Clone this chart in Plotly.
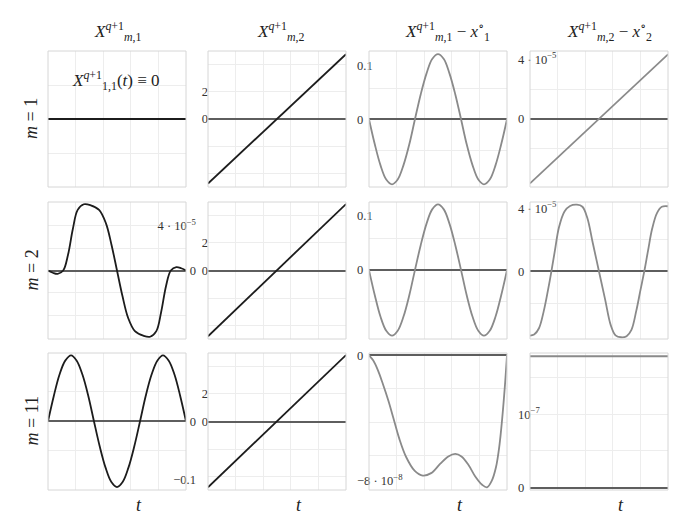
import numpy as np
import plotly.graph_objects as go
from plotly.subplots import make_subplots

# ── data (t normalised to [0, 1]) ────────────────────────────────────────────
t_ends = [0, 1]

# row m = 1
x1_m1 = [0, 0]                       # X_{1,1} identically zero
x2_m1 = [-4.7, 4.72]
t_err1 = [0, 0.042, 0.083, 0.125, 0.167, 0.208, 0.25, 0.292, 0.333, 0.375, 0.417,
          0.458, 0.5, 0.542, 0.583, 0.625, 0.667, 0.708, 0.75, 0.792, 0.833,
          0.875, 0.917, 0.958, 1]
err1_m1 = [0, -0.047, -0.086, -0.113, -0.122, -0.113, -0.086, -0.047, 0, 0.047,
           0.086, 0.113, 0.122, 0.113, 0.086, 0.047, 0, -0.047, -0.086, -0.113,
           -0.122, -0.113, -0.086, -0.047, 0]
err2_m1 = [-4.31e-5, 4.33e-5]

# row m = 2
t_x1_m2 = [0, 0.035, 0.07, 0.11, 0.145, 0.18, 0.215, 0.26, 0.31, 0.37, 0.42, 0.46, 0.5,
           0.54, 0.58, 0.63, 0.69, 0.74, 0.785, 0.82, 0.855, 0.89, 0.93, 0.965, 1]
x1_m2 = np.array([0, -0.2, -0.3, 0.0, 1.4, 3.7, 5.4, 5.9, 5.8, 5.4, 4.2, 2.3, 0,
                  -2.3, -4.2, -5.4, -5.8, -5.9, -5.4, -3.7, -1.4, 0.0, 0.3, 0.2, 0]) * 1e-5
x2_m2 = [-4.75, 4.8]
err1_m2 = [0, -0.046, -0.085, -0.111, -0.12, -0.111, -0.085, -0.046, 0, 0.046,
           0.085, 0.111, 0.12, 0.111, 0.085, 0.046, 0, -0.046, -0.085, -0.111,
           -0.12, -0.111, -0.085, -0.046, 0]
t_err2_m2 = [0, 0.03, 0.065, 0.1, 0.13, 0.155, 0.18, 0.21, 0.25, 0.29, 0.34, 0.38, 0.415,
             0.455, 0.5, 0.545, 0.585, 0.62, 0.66, 0.7, 0.735, 0.77, 0.8, 0.828, 0.855,
             0.885, 0.92, 0.955, 1]
err2_m2 = np.array([-4.06, -4.0, -3.6, -2.5, -1.2, 0, 1.3, 2.8, 3.8, 4.15, 4.23, 4.1, 3.4,
                    1.8, 0, -1.8, -3.4, -4.05, -4.17, -4.1, -3.7, -2.5, -1.2, 0, 1.3,
                    2.7, 3.7, 4.1, 4.13]) * 1e-5

# row m = 11
x1_m11 = [0, 0.043, 0.079, 0.103, 0.112, 0.103, 0.079, 0.043, 0, -0.043, -0.079,
          -0.103, -0.112, -0.103, -0.079, -0.043, 0, 0.043, 0.079, 0.103, 0.112,
          0.103, 0.079, 0.043, 0]
x2_m11 = [-4.75, 4.8]
t_err1_m11 = [0, 0.03, 0.065, 0.1, 0.14, 0.175, 0.22, 0.27, 0.33, 0.39, 0.45, 0.515,
              0.575, 0.625, 0.67, 0.72, 0.77, 0.82, 0.855, 0.89, 0.92, 0.945, 0.965,
              0.985, 1]
err1_m11 = np.array([0, -0.3, -0.9, -1.7, -2.7, -3.7, -5.0, -6.1, -6.9, -7.2, -7.05,
                     -6.5, -6.05, -5.9, -6.05, -6.55, -7.25, -7.75, -7.9, -7.5, -6.7,
                     -5.4, -3.8, -1.8, 0]) * 1e-8
err2_m11 = [1.786e-7, 1.786e-7]

# ── styling ──────────────────────────────────────────────────────────────────
W, H = 685, 521
ML, MR, MT, MB = 48, 17, 51, 31
PW, PH = W - ML - MR, H - MT - MB

COLS = [(48, 186), (208, 346), (369, 507), (530, 668)]
ROWS = [(51, 187), (202, 339), (353, 490)]

DARK = "#1c1c1c"
GREY = "#8a8a8a"
GRID = "#ededed"
FRAME = "#d6d6d6"
ZERO = "#5e5e5e"
SERIF = "Liberation Serif, DejaVu Serif, serif"


def px_x(x):
    return (x - ML) / PW


def px_y(y):
    return 1 - (y - MT) / PH


def label(fig, text, x, y, size=16, angle=0):
    fig.add_annotation(text=text, x=px_x(x), y=px_y(y), xref="paper", yref="paper",
                       xanchor="center", yanchor="middle", showarrow=False, textangle=angle,
                       font=dict(family=SERIF, size=size, color="#222"))


E5 = "4 · 10<sup>−5</sup>"

# (row, col): t, y, colour, y-range, grid values, label values, label texts, axis px, side
panels = {
    (1, 1): (t_ends, x1_m1, DARK, [-1, 1], [-0.5, 0.5], [], [], 196, "left"),
    (1, 2): (t_ends, x2_m1, DARK, [-4.95, 4.95], [-4, -2, 2, 4], [0, 2], ["0", "2"], 208, "left"),
    (1, 3): (t_err1, err1_m1, GREY, [-0.127, 0.128], [-0.058, 0.057], [0, 0.1], ["0", "0.1"], 356, "right"),
    (1, 4): (t_ends, err2_m1, GREY, [-4.55e-5, 4.55e-5], [-2e-5, 2e-5], [0, 4e-5], ["0", E5], 517, "right"),
    (2, 1): (t_x1_m2, x1_m2, DARK, [-6.1e-5, 6.1e-5], [-4e-5, -2e-5, 2e-5, 4e-5], [0, 4e-5], ["0", E5], 196, "left"),
    (2, 2): (t_ends, x2_m2, DARK, [-4.95, 4.95], [-4, -2, 2, 4], [0, 2], ["0", "2"], 208, "left"),
    (2, 3): (t_err1, err1_m2, GREY, [-0.126, 0.1245], [-0.058, 0.057], [0, 0.1], ["0", "0.1"], 356, "right"),
    (2, 4): (t_err2_m2, err2_m2, GREY, [-4.28e-5, 4.4e-5], [-2e-5, 2e-5], [0, 4e-5], ["0", E5], 517, "right"),
    (3, 1): (t_err1, x1_m11, DARK, [-0.117, 0.116], [-0.05, 0.05], [0, -0.1], ["0", "−0.1"], 196, "left"),
    (3, 2): (t_ends, x2_m11, DARK, [-4.95, 4.95], [-4, -2, 2, 4], [0, 2], ["0", "2"], 208, "left"),
    (3, 3): (t_err1_m11, err1_m11, GREY, [-8.06e-8, 0.14e-8], [-2e-8, -4e-8, -6e-8], [0, -7.5e-8],
             ["0", "−8 · 10<sup>−8</sup>"], 356, "right"),
    (3, 4): (t_ends, err2_m11, GREY, [-0.03e-7, 1.83e-7], [0.5e-7, 1e-7, 1.5e-7], [0, 1e-7],
             ["0", "10<sup>−7</sup>"], 517, "right"),
}

fig = make_subplots(rows=3, cols=4)

for (r, c), (tt, yy, col, yr, grid, lv, lt, pos, side) in panels.items():
    fig.add_trace(go.Scatter(x=tt, y=yy, mode="lines", line=dict(color=col, width=1.8, shape="spline"),
                             showlegend=False, hoverinfo="skip"), row=r, col=c)
    n = (r - 1) * 4 + c
    sfx = "" if n == 1 else str(n)
    x0, x1 = COLS[c - 1]
    y0, y1 = ROWS[r - 1]
    fig.layout["xaxis" + sfx].update(
        domain=[px_x(x0), px_x(x1)], range=[0, 1], tickvals=[0.2, 0.4, 0.6, 0.8],
        showticklabels=False, showgrid=True, gridcolor=GRID, gridwidth=1,
        zeroline=False, showline=False, ticks="",
    )
    fig.layout["yaxis" + sfx].update(
        domain=[px_y(y1), px_y(y0)], range=yr, anchor="free", position=px_x(pos), side=side,
        tickmode="array", tickvals=lv, ticktext=lt, showgrid=False, ticks="",
        minor=dict(tickmode="array", tickvals=grid, showgrid=True, gridcolor=GRID, gridwidth=1, ticks=""),
        zeroline=True, zerolinecolor=ZERO, zerolinewidth=1.5, showline=False,
        tickfont=dict(family=SERIF, size=12.5, color="#333"),
    )
    fig.add_shape(type="rect", xref=f"x{sfx} domain", yref=f"y{sfx} domain", x0=0, x1=1, y0=0, y1=1,
                  line=dict(color=FRAME, width=1))

col_titles = [
    "<i>X</i><sup><i>q</i>+1</sup><sub><i>m</i>,1</sub>",
    "<i>X</i><sup><i>q</i>+1</sup><sub><i>m</i>,2</sub>",
    "<i>X</i><sup><i>q</i>+1</sup><sub><i>m</i>,1</sub> − <i>x</i><sup>∘</sup><sub>1</sub>",
    "<i>X</i><sup><i>q</i>+1</sup><sub><i>m</i>,2</sub> − <i>x</i><sup>∘</sup><sub>2</sub>",
]
for txt, xc in zip(col_titles, [118, 281, 447, 609]):
    label(fig, txt, xc, 32, size=17)

for lab, (y0, y1) in zip(["1", "2", "11"], ROWS):
    label(fig, f"<i>m</i> = {lab}", 31, (y0 + y1) / 2, size=18, angle=-90)

for (x0, x1) in COLS:
    label(fig, "<i>t</i>", (x0 + x1) / 2 + 22, 505, size=18)

label(fig, "<i>X</i><sup><i>q</i>+1</sup><sub>1,1</sub>(<i>t</i>) ≡ 0", 116, 80, size=17)

fig.update_layout(
    width=W, height=H, margin=dict(l=ML, r=MR, t=MT, b=MB),
    paper_bgcolor="white", plot_bgcolor="white",
    font=dict(family=SERIF, color="#222"),
)

fig.write_html("out.html", config={"displayModeBar": False},
               post_script="document.body.style.margin = '0';")
